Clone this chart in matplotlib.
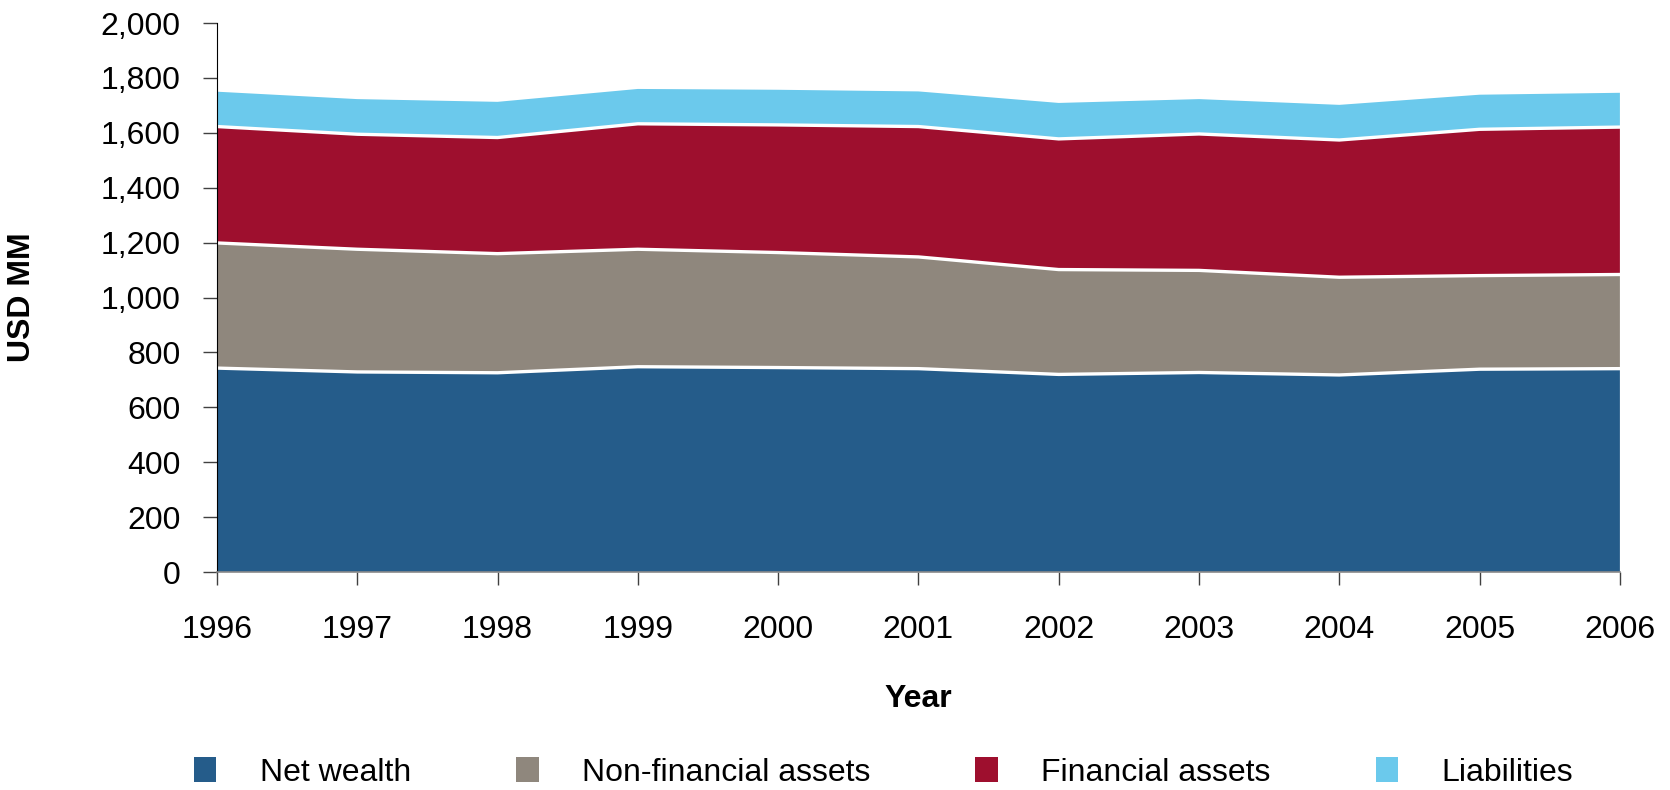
import matplotlib
matplotlib.use('Agg')
import matplotlib.pyplot as plt
from matplotlib.ticker import FuncFormatter, MultipleLocator
import numpy as np

plt.rcParams['font.family'] = ['Liberation Sans', 'DejaVu Sans']

years = [1996, 1997, 1998, 1999, 2000, 2001, 2002, 2003, 2004, 2005, 2006]
net_wealth = [743, 729, 726, 748, 745, 741, 720, 727, 718, 739, 741]
non_financial = [456, 447, 434, 428, 419, 407, 382, 372, 356, 341, 343]
financial = [424, 419, 423, 457, 465, 475, 476, 497, 500, 533, 537]
liabilities = [127, 128, 130, 127, 128, 128, 131, 127, 128, 126, 125]

labels = ['Net wealth', 'Non-financial assets', 'Financial assets', 'Liabilities']
colors = ['#255c8a', '#8f877d', '#9e0f2e', '#6bc9ec']

fig = plt.figure(figsize=(16.7, 7.9), dpi=100)
ax = fig.add_axes([0.1299, 0.2759, 0.8401, 0.6949])

series = [net_wealth, non_financial, financial, liabilities]
polys = ax.stackplot(years, *series, colors=colors, labels=labels, linewidth=0)

# white separators between the layers
cum = np.cumsum(np.array(series), axis=0)
for row in cum[:3]:
    ax.plot(years, row, color='white', linewidth=2.4, solid_joinstyle='miter')

ax.set_xlim(1996, 2006)
ax.set_ylim(0, 2000)
ax.set_xticks(years)
ax.yaxis.set_major_locator(MultipleLocator(200))
ax.yaxis.set_major_formatter(FuncFormatter(lambda v, p: f'{int(v):,}'))

ax.spines['top'].set_visible(False)
ax.spines['right'].set_visible(False)
ax.spines['left'].set_color('black')
ax.spines['bottom'].set_color('#8a8a8a')
ax.spines['bottom'].set_linewidth(1.2)

ax.tick_params(axis='y', direction='out', length=10, width=1, color='#404040',
               labelsize=23, pad=16)
ax.tick_params(axis='x', direction='out', length=9, width=1, color='#404040',
               labelsize=23, pad=22)

ax.set_ylabel('USD MM', fontsize=23, fontweight='bold')
ax.set_xlabel('Year', fontsize=23, fontweight='bold', labelpad=28)
ax.yaxis.set_label_coords(-0.128, 0.5)

fig.legend(handles=polys, labels=labels, loc='center', bbox_to_anchor=(0.529, 0.022),
           ncol=4, frameon=False, fontsize=23, handlelength=0.7, handleheight=0.8,
           handletextpad=1.35, columnspacing=3.3)

fig.savefig('out.png', dpi=100)
